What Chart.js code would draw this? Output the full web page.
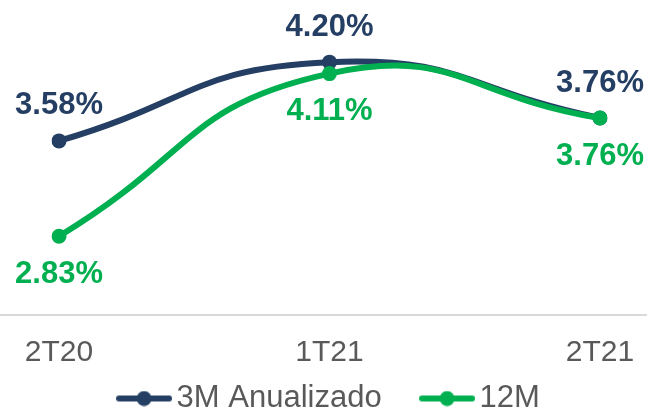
<!DOCTYPE html>
<html>
<head>
<meta charset="utf-8">
<script src="https://cdn.jsdelivr.net/npm/chart.js@4"></script>
<style>
  html, body { margin: 0; padding: 0; background: #fff; }
  #wrap { width: 647px; height: 408px; }
</style>
</head>
<body>
<div id="wrap"><canvas id="myChart"></canvas></div>
<script>
'use strict';

// data
let quarters = ['2T20', '1T21', '2T21'];
let anualizado3M = [3.58, 4.20, 3.76];
let doce12M = [2.83, 4.11, 3.76];
let seriesNames = ['3M Anualizado', '12M'];

let navy = '#243F63';
let green = '#00B050';
let fontName = '"Liberation Sans", Arial, sans-serif';

// little line + dot picture for the legend
function legendMark(color) {
  let c = document.createElement('canvas');
  c.width = 56;
  c.height = 16;
  let g = c.getContext('2d');
  g.strokeStyle = color;
  g.lineWidth = 6;
  g.lineCap = 'round';
  g.beginPath();
  g.moveTo(3, 8);
  g.lineTo(53, 8);
  g.stroke();
  g.fillStyle = color;
  g.beginPath();
  g.arc(28, 8, 7.5, 0, Math.PI * 2);
  g.fill();
  return c;
}
let legendMarks = [legendMark(navy), legendMark(green)];

// value labels over / under the points
let valueLabels = {
  id: 'valueLabels',
  afterDatasetsDraw(chart) {
    let ctx = chart.ctx;
    ctx.save();
    ctx.font = 'bold 31px ' + fontName;
    ctx.textAlign = 'center';
    ctx.textBaseline = 'middle';
    chart.data.datasets.forEach((ds, i) => {
      let meta = chart.getDatasetMeta(i);
      let shift = i === 0 ? -35 : 38;
      meta.data.forEach((pt, j) => {
        ctx.fillStyle = ds.borderColor;
        ctx.fillText(ds.data[j].toFixed(2) + '%', pt.x, pt.y + shift);
      });
    });
    ctx.restore();
  }
};

// light axis line across the whole width
let baseLine = {
  id: 'baseLine',
  beforeDatasetsDraw(chart) {
    let ctx = chart.ctx;
    let y = chart.chartArea.bottom;
    ctx.save();
    ctx.strokeStyle = '#D9D9D9';
    ctx.lineWidth = 2;
    ctx.beginPath();
    ctx.moveTo(0, y);
    ctx.lineTo(chart.width, y);
    ctx.stroke();
    ctx.restore();
  }
};

let ctx = document.getElementById('myChart').getContext('2d');

new Chart(ctx, {
  type: 'line',
  data: {
    labels: quarters,
    datasets: [
      {
        label: seriesNames[0] + '    ',
        data: anualizado3M,
        borderColor: navy,
        backgroundColor: navy,
        order: 2
      },
      {
        label: seriesNames[1],
        data: doce12M,
        borderColor: green,
        backgroundColor: green,
        order: 1
      }
    ]
  },
  options: {
    responsive: true,
    maintainAspectRatio: false,
    animation: false,
    elements: {
      line: { borderWidth: 6, tension: 0.5, borderCapStyle: 'round' },
      point: { radius: 7.5, pointStyle: 'circle', borderWidth: 0, hoverRadius: 7.5 }
    },
    // legend is centred in the padded width, the plot edges come from the x scale padding
    layout: { padding: { left: 20, right: 0, top: 0, bottom: 0 } },
    scales: {
      x: {
        offset: false,
        grid: { display: false, drawTicks: false },
        border: { display: false },
        ticks: {
          padding: 20,
          color: '#595959',
          font: { family: fontName, size: 30 }
        },
        afterFit(scale) {
          scale.height = 54;
          scale.paddingLeft = 59;
          scale.paddingRight = 47;
        }
      },
      y: {
        display: false,
        min: 2.21,
        max: 4.63
      }
    },
    plugins: {
      tooltip: { enabled: false },
      legend: {
        position: 'bottom',
        maxHeight: 39,
        labels: {
          usePointStyle: true,
          pointStyleWidth: 34,
          padding: 14,
          color: '#595959',
          font: { family: fontName, size: 31 },
          sort: (a, b) => a.datasetIndex - b.datasetIndex,
          generateLabels(chart) {
            let items = Chart.defaults.plugins.legend.labels.generateLabels(chart);
            items.forEach(item => {
              item.pointStyle = legendMarks[item.datasetIndex];
            });
            return items;
          }
        }
      }
    }
  },
  plugins: [baseLine, valueLabels]
});
</script>
</body>
</html>
